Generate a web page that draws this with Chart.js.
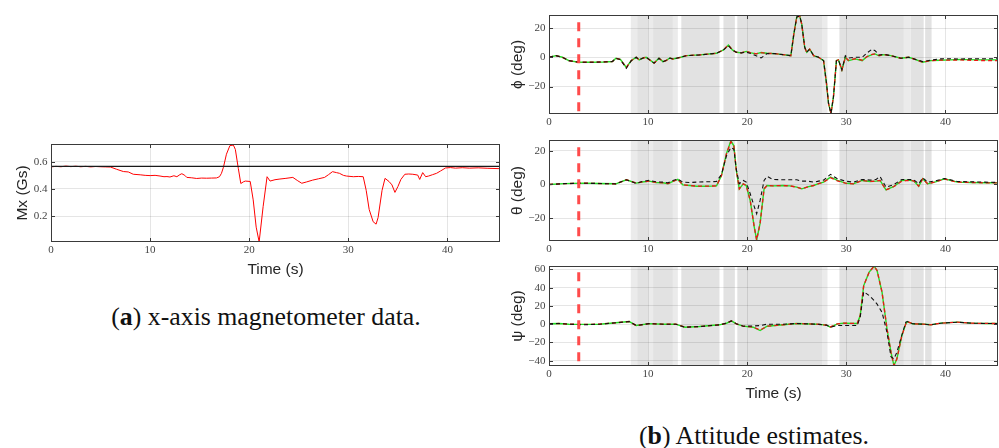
<!DOCTYPE html>
<html>
<head>
<meta charset="utf-8">
<script src="https://cdn.jsdelivr.net/npm/chart.js@4.4.1/dist/chart.umd.min.js"></script>
<style>
  body { margin: 0; background: #fff; width: 999px; height: 448px; position: relative; overflow: hidden; }
  canvas { position: absolute; }
  .cap { position: absolute; font-family: "Liberation Serif", serif; font-size: 25.8px; line-height: 26px;
         color: #111; white-space: nowrap; transform: translateX(-50%); }
</style>
</head>
<body>
<canvas id="mx" width="502" height="160" style="left:0;top:130px;width:502px;height:160px"></canvas>
<canvas id="phi" width="500" height="135" style="left:500px;top:0;width:500px;height:135px"></canvas>
<canvas id="theta" width="500" height="130" style="left:500px;top:130px;width:500px;height:130px"></canvas>
<canvas id="psi" width="500" height="154" style="left:500px;top:256px;width:500px;height:154px"></canvas>
<div class="cap" style="left:266px;top:304px">(<b>a</b>) x-axis magnetometer data.</div>
<div class="cap" style="left:754px;top:423px">(<b>b</b>) Attitude estimates.</div>
<script>
// shared time axis
const xTicks = [0, 10, 20, 30, 40];
const xMax = 45.3;

// (a) x-axis magnetometer
const mxTime = [0, 0.5, 1, 1.5, 2, 2.5, 3, 3.5, 4, 4.5,
  5, 5.5, 6, 6.6, 7.3, 7.8, 8.3, 9.0, 9.5, 10.0,
  10.5, 11.0, 11.4, 11.7, 12.0, 12.4, 12.7, 13.0, 13.2, 13.5,
  13.7, 14.2, 14.7, 15.2, 15.7, 16.2, 16.7, 17.0, 17.2, 17.4,
  17.7, 18.05, 18.4, 18.6, 18.9, 19.15, 19.4, 19.6, 20.1, 20.4,
  20.7, 21.0, 21.4, 21.8, 22.1, 22.6, 23.1, 23.7, 24.4, 24.9,
  25.3, 25.8, 26.4, 27.0, 27.6, 28.0, 28.4, 28.8, 29.1, 29.5,
  29.8, 30.5, 31.0, 31.5, 31.8, 32.1, 32.5, 32.8, 33.0, 33.4,
  33.7, 34.1, 34.4, 34.7, 35.0, 35.3, 35.7, 36.1, 36.5, 37.0,
  37.2, 37.5, 37.8, 38.1, 38.5, 38.9, 39.3, 39.8, 40.3, 40.8,
  41.5, 42.2, 43.1, 44.0, 45.3];
const mxValue = [0.562, 0.566, 0.563, 0.568, 0.564, 0.567, 0.563, 0.566, 0.562, 0.565,
  0.563, 0.562, 0.561, 0.545, 0.528, 0.525, 0.508, 0.504, 0.5, 0.498,
  0.5, 0.495, 0.49, 0.491, 0.488, 0.497, 0.49, 0.505, 0.512, 0.5,
  0.485, 0.482, 0.477, 0.48, 0.479, 0.48, 0.481, 0.49, 0.515, 0.56,
  0.655, 0.718, 0.722, 0.69, 0.55, 0.44, 0.452, 0.458, 0.455, 0.32,
  0.12, 0.012, 0.27, 0.49, 0.458, 0.468, 0.473, 0.478, 0.485, 0.46,
  0.442, 0.452, 0.465, 0.475, 0.485, 0.505, 0.527, 0.52, 0.515, 0.5,
  0.495, 0.49, 0.492, 0.49, 0.39, 0.25, 0.16, 0.142, 0.19, 0.39,
  0.478, 0.455, 0.43, 0.375, 0.418, 0.47, 0.508, 0.51, 0.508, 0.502,
  0.47, 0.52, 0.49, 0.495, 0.505, 0.515, 0.532, 0.554, 0.557, 0.553,
  0.556, 0.553, 0.555, 0.552, 0.549];
const mxRefTime = [0, 45.3];
const mxRefValue = [0.566, 0.566];
const mxTicks = [0.2, 0.4, 0.6];

// (b) roll
const phiTime = [0, 0.7, 1.35, 2.0, 3.0, 4.4, 5.5, 6.4, 6.75, 7.2,
  7.8, 8.3, 8.8, 9.1, 9.5, 9.8, 10.2, 10.6, 11.1, 11.5,
  11.8, 12.2, 12.5, 13.3, 13.85, 15.2, 16.9, 17.6, 18.1, 18.5,
  18.9, 19.4, 19.9, 20.4, 20.9, 21.4, 22.0, 22.8, 23.6, 24.4,
  24.7, 25.0, 25.3, 25.5, 25.8, 26.0, 26.3, 26.7, 27.2, 27.7,
  28.0, 28.2, 28.45, 28.7, 29.0, 29.2, 29.55, 29.9, 30.2, 30.9,
  31.6, 32.1, 32.6, 32.9, 33.3, 33.8, 34.5, 35.5, 36.3, 36.8,
  37.7, 38.5, 39.5, 40.5, 41.5, 42.2, 43.5, 45.3];
const phiGreen = [0, 1.1, 0, -2.3, -3.4, -3.4, -3.2, -2.9, -0.7, -1.5,
  -7.0, -2.3, 0, -1.8, -0.5, 0, -2.0, -4.0, -0.7, -3.0,
  -2.3, -0.5, -1.2, 0, 1.1, 1.6, 2.7, 5.0, 8.4, 5.0,
  3.4, 3.0, 4.0, 3.0, 2.3, 3.2, 2.7, 2.5, 1.8, 1.1,
  15.8, 27.6, 28.2, 22.6, 6.8, 3.4, 5.6, 1.1, 0, -2.3,
  -18, -31.6, -38.4, -27, -2.3, -1.8, -8.6, 0, -2.3, -1.1,
  -2.3, 0.5, 1.8, 2.3, 1.0, 1.8, 1.1, -0.7, 0, -1.1,
  -3.4, -2.3, -2.0, -1.8, -1.5, -1.6, -1.8, -1.8];
const phiRed = [0, 1.1, 0, -2.3, -3.4, -3.4, -3.2, -2.9, -0.7, -1.5,
  -7.0, -2.3, 0, -1.8, -0.5, 0, -2.0, -4.0, -0.7, -3.0,
  -2.3, -0.5, -1.2, 0, 1.1, 1.6, 2.7, 5.0, 8.4, 5.0,
  3.4, 3.0, 4.0, 3.0, 2.3, 3.2, 2.7, 2.5, 1.8, 1.1,
  15.8, 27.6, 28.2, 22.6, 6.8, 3.4, 5.6, 1.1, 0, -2.3,
  -18, -31.6, -38.4, -27, -2.3, -1.8, -8.6, 0, -2.0, -1.0,
  -2.0, 0.5, 2.0, 2.3, 1.2, 1.8, 1.1, -0.7, 0, -1.1,
  -3.4, -2.3, -2.0, -2.0, -1.8, -2.0, -2.2, -2.3];
const phiBlack = [0, 1.1, 0, -2.3, -3.4, -3.4, -3.2, -2.9, -0.7, -1.5,
  -7.5, -2.3, 0, -1.8, -0.5, 0, -2.0, -4.0, -0.7, -3.0,
  -2.3, -0.5, -1.2, 0, 1.1, 1.6, 2.7, 5.0, 8.0, 5.0,
  3.4, 3.0, 3.5, 2.5, 1.0, -0.5, 2.5, 2.5, 1.8, 1.1,
  15.8, 27.6, 28.2, 22.6, 6.8, 3.4, 5.6, 1.1, 0, -2.3,
  -18, -31.6, -38.4, -27, -2.3, -1.8, -8.6, 1.0, -0.5, 0,
  0, 3.0, 5.6, 4.5, 1.5, 2.0, 1.1, -0.7, 0, -1.1,
  -3.0, -2.0, -1.1, -1.0, -1.2, -1.1, -1.0, -1.0];
const phiTicks = [-20, 0, 20];

// (b) pitch
const thetaTime = [0, 1.5, 3.4, 5.0, 6.75, 7.8, 8.8, 9.4, 10.1, 10.8,
  11.5, 12.0, 12.5, 13.0, 13.5, 14.2, 14.9, 15.9, 16.9, 17.4,
  17.9, 18.35, 18.65, 18.9, 19.2, 19.6, 19.9, 20.3, 20.7, 20.95,
  21.3, 21.7, 22.0, 22.6, 23.6, 24.3, 25.0, 25.5, 26.1, 26.7,
  27.2, 27.7, 28.4, 29.1, 29.9, 30.7, 31.6, 32.4, 33.0, 33.4,
  34.0, 34.8, 35.6, 36.2, 36.8, 37.3, 37.7, 38.2, 39.0, 39.9,
  41.2, 42.5, 44.0, 45.3];
const thetaGreen = [0, 0.5, 0.8, 0.6, 0.4, 2.8, 0.8, 1.5, 2.0, 1.2,
  1.0, 0.5, 1.8, 3.0, -0.2, -0.6, -1.0, -1.0, -0.8, 5.3,
  18.2, 26.0, 23.0, 8.3, -2.6, 0.4, -0.6, -9.5, -25, -33,
  -23, -2.6, -0.6, -0.8, -0.6, -0.8, -1.6, -2.6, -1.4, -0.6,
  0.5, 1.4, 4.4, 2.4, 0.8, 0.4, 2.4, 1.8, 2.0, 2.4,
  -3.2, -1.2, 2.4, 2.6, 2.2, -1.0, 3.4, 0.4, 1.6, 3.4,
  1.4, 1.2, 1.0, 1.0];
const thetaRed = [0, 0.5, 0.8, 0.6, 0.4, 2.8, 0.8, 1.5, 2.0, 1.2,
  1.0, 0.5, 1.8, 3.0, -0.2, -0.6, -1.0, -1.0, -0.8, 5.3,
  18.2, 25.5, 23.0, 8.3, -2.6, 0.4, -0.6, -9.5, -25, -33,
  -23, -2.6, -0.6, -0.8, -0.6, -0.8, -1.6, -2.6, -1.4, -0.6,
  0.5, 1.4, 4.0, 2.2, 0.8, 0.4, 2.4, 1.8, 2.0, 2.4,
  -3.2, -1.2, 2.0, 2.4, 2.2, -1.0, 3.4, 0.4, 1.6, 3.2,
  1.4, 1.2, 1.0, 1.0];
const thetaBlack = [0, 0.5, 0.8, 0.6, 0.4, 2.8, 0.6, 1.8, 2.5, 1.6,
  1.4, 1.0, 2.4, 3.2, 1.4, 1.2, 1.4, 1.6, 1.8, 6.0,
  17.0, 22.0, 21.0, 9.0, 0.4, 2.4, 1.4, -5.5, -13, -17.4,
  -9.5, 2.4, 4.8, 3.0, 2.8, 2.8, 2.8, 2.0, 2.0, 1.4,
  2.0, 2.6, 6.0, 3.4, 2.0, 1.4, 3.0, 2.6, 3.0, 4.8,
  -1.6, 0, 3.0, 3.0, 2.8, 0.4, 4.0, 1.4, 2.2, 3.6,
  1.8, 1.6, 1.4, 1.2];
const thetaTicks = [-20, 0, 20];

// (b) yaw
const psiTime = [0, 1.0, 2.0, 3.5, 5.1, 6.75, 8.1, 8.8, 10.1, 11.5,
  12.8, 13.7, 15.2, 17.2, 17.9, 18.4, 18.9, 19.6, 20.6, 21.3,
  22.0, 23.6, 25.0, 27.0, 28.0, 28.4, 29.1, 29.7, 31.1, 31.4,
  31.75, 32.3, 32.8, 33.1, 33.6, 34.1, 34.5, 34.8, 35.1, 35.6,
  36.0, 36.15, 36.7, 37.8, 38.5, 39.5, 41.2, 42.6, 44.0, 45.3];
const psiGreen = [0.4, 0.8, 0, -0.2, 0, 1.5, 2.9, -1.5, 0.6, 0,
  0, -3.3, -2.6, -0.7, 1.0, 3.6, 0.4, -2.2, -3.3, -7.0,
  -2.2, -0.7, 0.7, 0, -1.0, -3.3, 0.4, 1.1, 0.7, 9.5,
  42.3, 57.0, 63.5, 58.8, 35.0, -5.0, -30.7, -45.3, -38.0, -12.4,
  0.4, 2.9, 0.4, 0, -0.7, 1.1, 2.2, 1.1, 0.8, 0.7];
const psiRed = [0.4, 0.8, 0, -0.2, 0, 1.5, 2.9, -1.5, 0.6, 0,
  0, -3.3, -2.6, -0.7, 1.0, 3.6, 0.4, -2.2, -3.0, -6.5,
  -2.2, -0.7, 0.7, 0, -1.0, -3.0, 0.4, 1.1, 0.7, 9.5,
  42.3, 57.0, 63.5, 58.8, 35.0, -5.0, -30.7, -45.3, -38.0, -12.4,
  0.4, 2.9, 0.4, 0, -0.7, 1.1, 2.2, 1.1, 0.8, 0.7];
const psiBlack = [0.4, 0.8, 0, -0.6, 0, 1.5, 2.9, -1.5, 0.6, 0,
  0, -3.3, -2.6, -0.7, 1.0, 3.6, 0.4, -2.2, -2.0, -1.5,
  0, 0, 0.7, 0, -1.0, -3.3, -1.5, -1.5, -1.5, 8.0,
  35.5, 31.4, 26.0, 22.0, 13.0, -9.0, -35.5, -38.0, -30.7, -12.0,
  2.2, 2.9, 0.4, 0, -0.7, 1.1, 2.2, 1.1, 0.8, 0.7];
const psiTicks = [-40, -20, 0, 20, 40, 60];

// start marker (s) and its top value per panel
const markerTime = [3, 3];
const phiMarker = [24, -38.8];
const thetaMarker = [22.2, -33.6];
const psiMarker = [57, -45.8];

// shaded intervals (s)
const bandLight = [[8.25, 8.9], [10.0, 10.5], [12.5, 13.0], [27.6, 28.1], [35.8, 36.5]];
const bandDark = [[8.9, 10.0], [10.5, 12.5], [13.35, 17.2], [17.6, 18.75], [19.0, 27.6],
  [29.3, 35.8], [36.5, 37.8], [37.95, 38.6]];

const pts = (xs, ys) => xs.map((x, i) => ({ x: x, y: ys[i] }));
const minus = v => String(v).replace('-', '\u2212');

const framePlugin = {
  id: 'frame',
  beforeDraw(chart, args, o) {
    if (!o.bands) return;
    const { ctx, chartArea: a, scales: { x } } = chart;
    ctx.save();
    [[bandLight, '#ebebeb'], [bandDark, '#e2e2e2']].forEach(([list, color]) => {
      ctx.fillStyle = color;
      list.forEach(([s, e]) => {
        const x0 = x.getPixelForValue(s), x1 = x.getPixelForValue(e);
        ctx.fillRect(x0, a.top, x1 - x0, a.bottom - a.top);
      });
    });
    ctx.restore();
  },
  afterDraw(chart) {
    const { ctx, chartArea: a, scales: { x, y } } = chart;
    ctx.save();
    ctx.strokeStyle = '#3a3a3a';
    ctx.lineWidth = 1;
    ctx.beginPath();
    x.ticks.forEach(t => {
      const px = Math.round(x.getPixelForValue(t.value)) + 0.5;
      ctx.moveTo(px, a.top); ctx.lineTo(px, a.top + 4);
      ctx.moveTo(px, a.bottom); ctx.lineTo(px, a.bottom - 4);
    });
    y.ticks.forEach(t => {
      const py = Math.round(y.getPixelForValue(t.value)) + 0.5;
      ctx.moveTo(a.left, py); ctx.lineTo(a.left + 4, py);
      ctx.moveTo(a.right, py); ctx.lineTo(a.right - 4, py);
    });
    ctx.stroke();
    ctx.strokeRect(Math.round(a.left) + 0.5, Math.round(a.top) + 0.5,
      Math.round(a.width) - 1, Math.round(a.height) - 1);
    ctx.restore();
  }
};

const tickFont = { family: '"Liberation Serif", serif', size: 11 };
const titleFont = { family: '"Liberation Sans", Arial, sans-serif', size: 15.5 };

function makeChart(id, c) {
  return new Chart(document.getElementById(id), {
    type: 'line',
    data: { datasets: c.datasets },
    options: {
      responsive: false,
      animation: false,
      layout: { padding: { top: c.padTop, right: 2, left: 0, bottom: 0 } },
      plugins: { legend: { display: false }, tooltip: { enabled: false }, frame: { bands: c.bands } },
      elements: { point: { radius: 0 }, line: { tension: 0 } },
      scales: {
        x: {
          type: 'linear', min: 0, max: xMax,
          afterBuildTicks: s => { s.ticks = xTicks.map(v => ({ value: v })); },
          afterFit: s => { s.height = c.xHeight; },
          grid: { color: 'rgba(0,0,0,0.1)', drawTicks: false },
          border: { display: false },
          ticks: { padding: 2, color: '#444', font: tickFont, maxRotation: 0 },
          title: { display: !!c.xTitle, text: c.xTitle, color: '#262626', font: titleFont,
                   padding: { top: 0, bottom: c.xTitlePad } }
        },
        y: {
          type: 'linear', min: c.yMin, max: c.yMax,
          afterBuildTicks: s => { s.ticks = c.yTicks.map(v => ({ value: v })); },
          afterFit: s => { s.width = c.yWidth; },
          grid: { color: 'rgba(0,0,0,0.1)', drawTicks: false },
          border: { display: false },
          ticks: { padding: 3.5, color: '#444', font: tickFont, callback: minus },
          title: { display: true, text: c.yTitle, color: '#262626', font: titleFont,
                   padding: { top: c.yTitlePad, bottom: 0 } }
        }
      }
    },
    plugins: [framePlugin]
  });
}

function attitudeSets(time, black, red, green, marker) {
  return [
    { data: pts(markerTime, marker), borderColor: '#ff4b4b', borderWidth: 3, borderDash: [9, 7] },
    { data: pts(time, black), borderColor: '#111', borderWidth: 1.1, borderDash: [4, 3] },
    { data: pts(time, red), borderColor: '#ee1515', borderWidth: 1.3, borderDash: [4, 3] },
    { data: pts(time, green), borderColor: '#22dd22', borderWidth: 1.4 }
  ];
}

makeChart('mx', {
  datasets: [
    { data: pts(mxRefTime, mxRefValue), borderColor: '#1a1a1a', borderWidth: 1.2 },
    { data: pts(mxTime, mxValue), borderColor: '#ff0000', borderWidth: 1 }
  ],
  yMin: 0.011, yMax: 0.73, yTicks: mxTicks, yTitle: 'Mx (Gs)', yTitlePad: 13,
  xTitle: 'Time (s)', xTitlePad: 11, padTop: 14, yWidth: 51, xHeight: 48, bands: false
});

makeChart('phi', {
  datasets: attitudeSets(phiTime, phiBlack, phiRed, phiGreen, phiMarker),
  yMin: -38.8, yMax: 28.9, yTicks: phiTicks, yTitle: '\u03D5 (deg)', yTitlePad: 8,
  xTitle: '', xTitlePad: 0, padTop: 15, yWidth: 49, xHeight: 21, bands: true
});

makeChart('theta', {
  datasets: attitudeSets(thetaTime, thetaBlack, thetaRed, thetaGreen, thetaMarker),
  yMin: -33.6, yMax: 26.4, yTicks: thetaTicks, yTitle: '\u03B8 (deg)', yTitlePad: 8,
  xTitle: '', xTitlePad: 0, padTop: 10, yWidth: 49, xHeight: 19, bands: true
});

makeChart('psi', {
  datasets: attitudeSets(psiTime, psiBlack, psiRed, psiGreen, psiMarker),
  yMin: -45.8, yMax: 63.6, yTicks: psiTicks, yTitle: '\u03C8 (deg)', yTitlePad: 8,
  xTitle: 'Time (s)', xTitlePad: 7, padTop: 10, yWidth: 49, xHeight: 44, bands: true
});
</script>
</body>
</html>
